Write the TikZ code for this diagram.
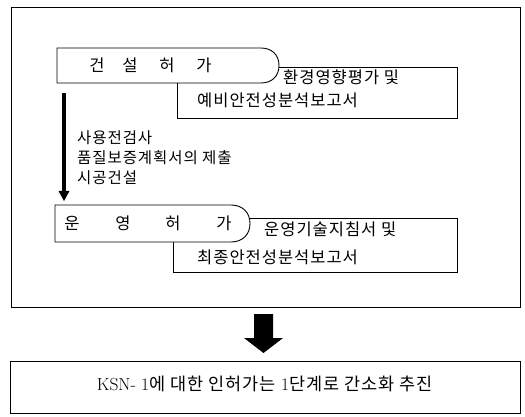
\documentclass[tikz,border=0pt]{standalone}
\usepackage{fontspec}
\newfontfamily\kr{Noto Sans CJK KR}[LetterSpace=6]
\newfontfamily\krb{Noto Sans CJK KR}
\tikzset{
  frame/.style={draw=black, line width=0.9pt},
  boxtxt/.style={font=\krb\fontsize{16.5}{18}\selectfont, inner sep=0pt},
  sidetxt/.style={font=\kr\fontsize{15.5}{17}\selectfont, inner sep=0pt, anchor=west},
  subtxt/.style={font=\kr\fontsize{16.5}{18}\selectfont, inner sep=0pt, anchor=west},
}
\begin{document}
\begin{tikzpicture}[x=1pt,y=-1pt]
\useasboundingbox (0,0) rectangle (525,417);
% outer frame
\draw[frame] (11,7) rectangle (520,307);
% construction permit: sub box then rounded box over it
\draw[frame, fill=white] (177,67) rectangle (457,118);
\draw[frame, fill=white] (57,48) -- (261,48) .. controls (272,48) and (279,55) .. (279,65.5)
   .. controls (279,76) and (272,83) .. (261,83) -- (57,83) -- cycle;
\node[boxtxt] (c1) at (97,65) {건};
\node[boxtxt] (c2) at (130,65) {설};
\node[boxtxt] (c3) at (167,65) {허};
\node[boxtxt] (c4) at (204,65) {가};
\node[subtxt] (s1a) at (283,77) {환경영향평가 및};
\node[subtxt] (s1b) at (197,100) {예비안전성분석보고서};
% operation permit
\draw[frame, fill=white] (173,218) rectangle (457,272);
\draw[frame, fill=white] (55,205) -- (231,205) .. controls (243,205) and (250,213) .. (250,223.5)
   .. controls (250,234) and (243,242) .. (231,242) -- (55,242) -- cycle;
\node[boxtxt] (o1) at (72,223) {운};
\node[boxtxt] (o2) at (123,223) {영};
\node[boxtxt] (o3) at (173,223) {허};
\node[boxtxt] (o4) at (224,223) {가};
\node[subtxt] (s2a) at (264,229) {운영기술지침서 및};
\node[subtxt] (s2b) at (197,257) {최종안전성분석보고서};
% vertical arrow with texts
\coordinate (a0) at (64,93);
\coordinate (a1) at (64,201);
\draw[line width=3.5pt] (a0) -- (64,192);
\fill (58.5,191) -- (69.5,191) -- (a1) -- cycle;
\node[sidetxt] (t1) at (77,138) {사용전검사};
\node[sidetxt] (t2) at (77,158) {품질보증계획서의 제출};
\node[sidetxt] (t3) at (77,178) {시공건설};
% big arrow
\fill (254,314) -- (273,314) -- (273,338) -- (283,338) -- (263.5,353) -- (244,338) -- (254,338) -- cycle;
% result box
\draw[frame] (10,361) rectangle (520,413);
\node[inner sep=0pt, font=\fontsize{17.5}{19}\selectfont] (r) at (265,384) {KSN- 1{\kr 에 대한 인허가는 }1{\kr 단계로 간소화 추진}};
\end{tikzpicture}
\end{document}
